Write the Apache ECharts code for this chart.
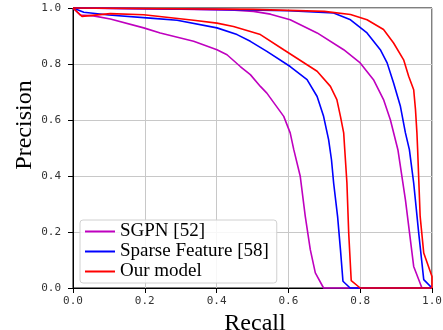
<!DOCTYPE html>
<html><head><meta charset="utf-8">
<script src="https://cdn.jsdelivr.net/npm/echarts@6/dist/echarts.min.js"></script>
<style>html,body{margin:0;padding:0;background:#fff}#c{width:443px;height:330px}</style>
</head><body><div id="c"></div>
<script>
const xTicks = [0, 0.2, 0.4, 0.6, 0.8, 1.0];
const yTicks = [0, 0.2, 0.4, 0.6, 0.8, 1.0];
const seriesNames = ['SGPN [52]', 'Sparse Feature [58]', 'Our model'];
const seriesColors = ['#bf00bf', '#0000ff', '#ff0000'];

const sgpnLeft = [[0,1.0],[0.02,0.975],[0.057,0.972],[0.104,0.961],[0.197,0.929],[0.243,0.911],[0.336,0.881],[0.401,0.851],[0.429,0.833],[0.466,0.791],[0.494,0.762],[0.522,0.72],[0.54,0.696],[0.587,0.613],[0.605,0.554],[0.615,0.494],[0.633,0.399],[0.647,0.256],[0.661,0.137],[0.675,0.054],[0.698,0.0],[1.0,0.0]];
const sgpnRight = [[0,1.0],[0.3,0.996],[0.45,0.992],[0.503,0.988],[0.55,0.978],[0.605,0.958],[0.68,0.911],[0.754,0.851],[0.8,0.804],[0.837,0.744],[0.865,0.673],[0.884,0.601],[0.905,0.494],[0.926,0.315],[0.949,0.077],[0.972,0.0],[1.0,0.0]];
const sparseLeft = [[0,1.0],[0.03,0.985],[0.1,0.975],[0.215,0.964],[0.29,0.956],[0.401,0.929],[0.457,0.905],[0.494,0.881],[0.54,0.845],[0.605,0.791],[0.652,0.744],[0.68,0.684],[0.698,0.613],[0.712,0.53],[0.72,0.458],[0.726,0.375],[0.737,0.256],[0.745,0.137],[0.752,0.024],[0.772,0.0],[1.0,0.0]];
const sparseRight = [[0,1.0],[0.4,0.995],[0.6,0.99],[0.726,0.982],[0.773,0.958],[0.819,0.911],[0.856,0.851],[0.875,0.804],[0.893,0.732],[0.912,0.649],[0.926,0.554],[0.937,0.494],[0.949,0.375],[0.963,0.196],[0.972,0.089],[0.977,0.03],[1.0,0.0]];
const ourLeft = [[0,1.0],[0.025,0.97],[0.104,0.98],[0.197,0.976],[0.336,0.956],[0.401,0.946],[0.447,0.934],[0.494,0.916],[0.522,0.905],[0.587,0.851],[0.68,0.774],[0.717,0.72],[0.735,0.673],[0.745,0.613],[0.754,0.554],[0.757,0.494],[0.763,0.375],[0.768,0.196],[0.775,0.026],[0.8,0.0],[1.0,0.0]];
const ourRight = [[0,1.0],[0.5,0.995],[0.7,0.988],[0.773,0.977],[0.819,0.958],[0.865,0.923],[0.893,0.875],[0.921,0.815],[0.935,0.756],[0.949,0.708],[0.954,0.637],[0.958,0.554],[0.96,0.494],[0.967,0.256],[0.977,0.125],[1.0,0.041],[1.0,0.0]];

const curves = [
  [0, sgpnLeft], [0, sgpnRight],
  [1, sparseLeft], [1, sparseRight],
  [2, ourLeft], [2, ourRight]
];

const chart = echarts.init(document.getElementById('c'), null, {renderer: 'canvas'});
const tickFont = {fontFamily: 'DejaVu Sans Mono', fontSize: 11, color: '#333'};
chart.setOption({
  animation: false,
  grid: {left: 73, right: 11, top: 8, bottom: 42, show: true, borderColor: '#000', borderWidth: 1, backgroundColor: 'transparent', containLabel: false, outerBoundsMode: 'none'},
  xAxis: {
    type: 'value', min: 0, max: 1, interval: 0.2,
    name: 'Recall', nameLocation: 'middle', nameGap: 20,
    nameTextStyle: {fontFamily: 'Liberation Serif', fontSize: 24, color: '#000', padding: [0, 0, 0, 5]},
    axisLine: {lineStyle: {color: '#000', width: 1}},
    axisTick: {show: true, length: 5, lineStyle: {color: '#000'}},
    axisLabel: Object.assign({margin: 8, formatter: v => v.toFixed(1)}, tickFont),
    splitLine: {show: true, lineStyle: {color: '#c8c8c8', width: 1}}
  },
  yAxis: {
    type: 'value', min: 0, max: 1, interval: 0.2,
    axisLine: {lineStyle: {color: '#000', width: 1}},
    axisTick: {show: true, length: 5, lineStyle: {color: '#000'}},
    axisLabel: Object.assign({margin: 12, formatter: v => v.toFixed(1)}, tickFont),
    splitLine: {show: true, lineStyle: {color: '#c8c8c8', width: 1}}
  },
  graphic: [{
    type: 'text', x: 25, y: 125, rotation: Math.PI / 2,
    style: {text: 'Precision', font: '24px "Liberation Serif"', fill: '#000', align: 'center', verticalAlign: 'middle'}
  }],
  legend: {
    show: true, orient: 'vertical', left: 80, top: 220,
    data: seriesNames,
    icon: 'rect', itemWidth: 30, itemHeight: 2, itemGap: 1,
    padding: [2, 8, 2, 5],
    backgroundColor: 'rgba(255,255,255,0.85)', borderColor: '#d0d0d0', borderWidth: 1, borderRadius: 3,
    textStyle: {fontFamily: 'Liberation Serif', fontSize: 19, lineHeight: 19, color: '#000'}
  },
  series: curves.map(([k, d]) => ({
    type: 'line', name: seriesNames[k], data: d, showSymbol: false, symbol: 'none',
    color: seriesColors[k],
    lineStyle: {color: seriesColors[k], width: 1.6},
    clip: false
  }))
});
</script></body></html>
